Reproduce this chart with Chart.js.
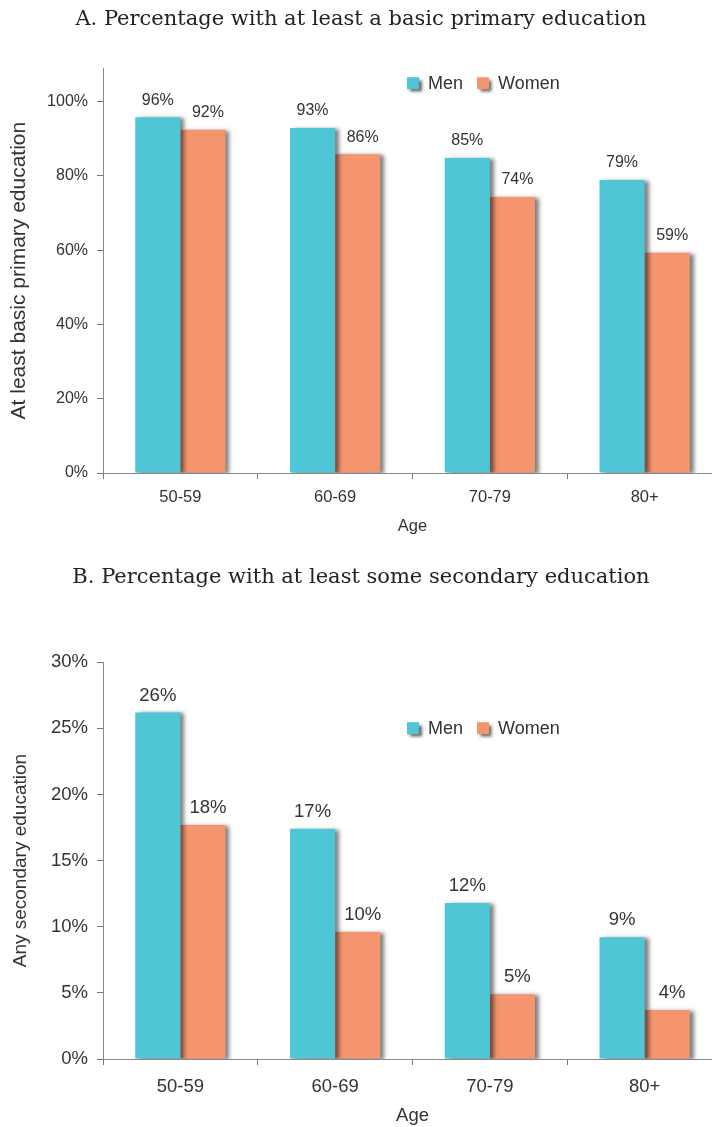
<!DOCTYPE html>
<html>
<head>
<meta charset="utf-8">
<script src="https://cdn.jsdelivr.net/npm/chart.js@4.4.1/dist/chart.umd.min.js"></script>
<style>
  html, body { margin: 0; padding: 0; background: #fff; overflow: hidden; }
  .panel { position: relative; width: 712px; overflow: hidden; }
  canvas { display: block; }
</style>
</head>
<body>
<div class="panel" style="height:545px"><canvas id="chartA" width="722" height="545"></canvas></div>
<div class="panel" style="height:582px"><canvas id="chartB" width="722" height="582"></canvas></div>
<script>
const ageGroups = ['50-59', '60-69', '70-79', '80+'];
const seriesNames = ['Men', 'Women'];
const primaryMen = [95.8, 92.9, 84.8, 78.9];
const primaryWomen = [92.4, 85.8, 74.3, 59.3];
const secondaryMen = [26.2, 17.4, 11.8, 9.2];
const secondaryWomen = [17.7, 9.6, 4.9, 3.7];
const primaryTicks = [0, 20, 40, 60, 80, 100];
const secondaryTicks = [0, 5, 10, 15, 20, 25, 30];

const MEN_COLOR = '#4EC6D6';
const WOMEN_COLOR = '#F5956F';
const SANS = '"Liberation Sans", Arial, sans-serif';

// drop shadow under the bars
const barShadow = {
    id: 'barShadow',
    beforeDatasetsDraw(chart) {
        const ctx = chart.ctx;
        ctx.save();
        ctx.shadowColor = 'rgba(0, 0, 0, 0.5)';
        ctx.shadowBlur = 4;
        ctx.shadowOffsetX = 4;
        ctx.shadowOffsetY = 1;
    },
    afterDatasetsDraw(chart) {
        chart.ctx.restore();
    }
};

// percentage labels above each bar
const barLabels = {
    id: 'barLabels',
    afterDatasetsDraw(chart, args, opts) {
        const ctx = chart.ctx;
        ctx.save();
        ctx.font = opts.size + 'px ' + SANS;
        ctx.fillStyle = '#333';
        ctx.textAlign = 'center';
        ctx.textBaseline = 'middle';
        chart.data.datasets.forEach((ds, i) => {
            chart.getDatasetMeta(i).data.forEach((bar, j) => {
                let shift = i === 1 ? 5 : 0;
                ctx.fillText(Math.round(ds.data[j]) + '%', bar.x + shift, bar.y - opts.gap);
            });
        });
        ctx.restore();
    }
};

// legend with shadowed squares, placed inside the plot
const boxLegend = {
    id: 'boxLegend',
    afterDraw(chart, args, opts) {
        const ctx = chart.ctx;
        let x = chart.chartArea.left + opts.left;
        let y = chart.chartArea.top + opts.top;
        ctx.save();
        ctx.font = '18px ' + SANS;
        chart.data.datasets.forEach(ds => {
            ctx.save();
            ctx.shadowColor = 'rgba(0, 0, 0, 0.6)';
            ctx.shadowBlur = 3;
            ctx.shadowOffsetX = 3;
            ctx.shadowOffsetY = 3;
            ctx.fillStyle = ds.backgroundColor;
            ctx.fillRect(x, y, 12, 12);
            ctx.restore();
            ctx.fillStyle = '#333';
            ctx.textAlign = 'left';
            ctx.textBaseline = 'middle';
            ctx.fillText(ds.label, x + 21, y + 6.5);
            x += 21 + ctx.measureText(ds.label).width + 14;
        });
        ctx.restore();
    }
};

function makeChart(id, cfg) {
    let ctx = document.getElementById(id).getContext('2d');
    return new Chart(ctx, {
        type: 'bar',
        data: {
            labels: ageGroups,
            datasets: [
                { label: seriesNames[0], data: cfg.men, backgroundColor: MEN_COLOR },
                { label: seriesNames[1], data: cfg.women, backgroundColor: WOMEN_COLOR }
            ]
        },
        options: {
            responsive: false,
            animation: false,
            events: [],
            layout: { padding: 0 },
            datasets: { bar: { barPercentage: 1, categoryPercentage: 0.583 } },
            plugins: {
                legend: { display: false },
                tooltip: { enabled: false },
                title: {
                    display: true,
                    text: cfg.title,
                    color: '#222',
                    font: { family: '"DejaVu Serif", serif', size: 21, weight: 'normal' },
                    padding: cfg.titlePad
                },
                barLabels: { size: cfg.font, gap: 17 },
                boxLegend: { left: 304, top: cfg.legendTop }
            },
            scales: {
                x: {
                    afterFit: s => { s.height = cfg.xHeight; },
                    grid: { display: true, drawOnChartArea: false, drawTicks: true, tickLength: 6, color: '#777', offset: true },
                    border: { color: '#888' },
                    ticks: { color: '#333', padding: cfg.xPad, font: { family: SANS, size: cfg.xFont } },
                    title: {
                        display: true, text: 'Age', color: '#333',
                        font: { family: SANS, size: cfg.xFont },
                        padding: { top: 0, bottom: cfg.ageBottom }
                    }
                },
                y: {
                    min: 0,
                    max: cfg.max,
                    afterFit: s => { s.width = 103; },
                    afterBuildTicks: s => { s.ticks = cfg.ticks.map(v => ({ value: v })); },
                    grid: { display: true, drawOnChartArea: false, drawTicks: true, tickLength: 6, color: '#777' },
                    border: { color: '#888' },
                    ticks: { color: '#333', padding: 9, font: { family: SANS, size: cfg.font }, callback: v => v + '%' },
                    title: {
                        display: true, text: cfg.yTitle, color: '#333',
                        font: { family: SANS, size: cfg.yTitleFont },
                        padding: { top: cfg.yTitlePad, bottom: 0 }
                    }
                }
            }
        },
        plugins: [barShadow, barLabels, boxLegend]
    });
}

makeChart('chartA', {
    title: 'A. Percentage with at least a basic primary education',
    yTitle: 'At least basic primary education',
    men: primaryMen, women: primaryWomen,
    ticks: primaryTicks, max: 109,
    titlePad: { top: 7, bottom: 36 },
    xHeight: 72, xPad: 9, xFont: 16.5, ageBottom: 9,
    font: 16, yTitleFont: 21, yTitlePad: 7,
    legendTop: 9
});

makeChart('chartB', {
    title: 'B. Percentage with at least some secondary education',
    yTitle: 'Any secondary education',
    men: secondaryMen, women: secondaryWomen,
    ticks: secondaryTicks, max: 30,
    titlePad: { top: 20, bottom: 72 },
    xHeight: 68, xPad: 11, xFont: 18.5, ageBottom: 0,
    font: 18.5, yTitleFont: 19, yTitlePad: 9,
    legendTop: 60
});
</script>
</body>
</html>
